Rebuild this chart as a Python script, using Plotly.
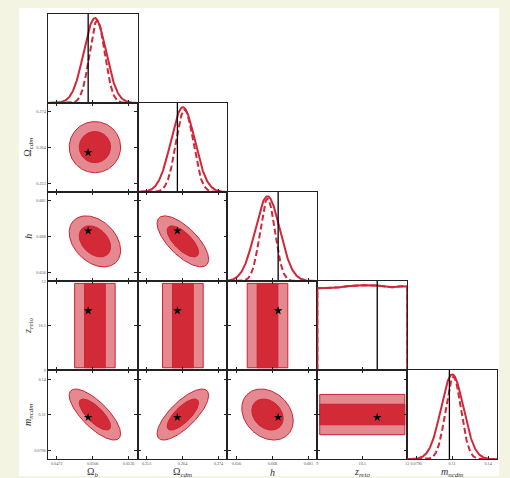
import numpy as np
import plotly.graph_objects as go

W, H = 510, 478

# ---------------- data ----------------
labels = ["Ω<sub><i>b</i></sub>", "Ω<sub><i>cdm</i></sub>", "<i>h</i>",
          "<i>z</i><sub><i>reio</i></sub>", "<i>m</i><sub><i>ncdm</i></sub>"]
ranges = [[0.0464, 0.0544], [0.250375, 0.276625], [0.652875, 0.684125],
          [9.0, 12.0], [0.07205, 0.14755]]
tick_vals = [[0.0472, 0.0504, 0.0536], [0.253, 0.2635, 0.274], [0.656, 0.6685, 0.681],
             [9.0, 10.5, 12.0], [0.0796, 0.1098, 0.14]]
tick_text = [["0.0472", "0.0506", "0.0536"], ["0.253", "0.264", "0.274"],
             ["0.656", "0.668", "0.681"], ["9", "10.5", "12"], ["0.0796", "0.11", "0.14"]]
truths = [0.0500, 0.2620, 0.6705, 11.0, 0.1075]

# gaussian parameters (None for the flat z_reio)
means = [0.0506, 0.2636, 0.6668, None, 0.1099]
sig2d = [0.00092, 0.00303, 0.0036, None, 0.0087]
mean1d_solid = [0.0506, 0.2636, 0.6668, None, 0.1099]
sig1d_solid = [0.00099, 0.0035, 0.0043, None, 0.0094]
mean1d_dash = [0.0508, 0.2641, 0.6668, None, 0.1108]
sig1d_dash = [0.00068, 0.0025, 0.0026, None, 0.0065]
peak_dash = 0.97
corr = {(1, 0): 0.0, (2, 0): -0.35, (2, 1): -0.7, (4, 0): -0.75, (4, 1): 0.75, (4, 2): -0.25}

# flat z_reio posterior
z_grid = [9.0, 9.0, 9.5, 9.75, 10.0, 10.5, 11.0, 11.5, 11.8, 12.0, 12.0]
z_post = [0.0, 0.965, 0.972, 0.976, 0.99, 1.0, 0.998, 0.976, 0.99, 0.985, 0.0]
z_band = [9.08, 11.92]

# ---------------- style ----------------
RED = "#d0283a"
INNER = "#d22a36"
OUTER = "#e58990"
EDGE = "#cc2233"
FRAME = "#222222"
SERIF = "Liberation Serif, DejaVu Serif, serif"

X0, Y0, DX, DY = 47.0, 11.0, 90.4, 90.0
N = 5

fig = go.Figure()
layout = {}


def ellipse(mx, my, sx, sy, rho, k2):
    t = np.linspace(0, 2 * np.pi, 200)
    a = np.sqrt(k2)
    u = a * np.cos(t)
    v = a * np.sin(t)
    x = mx + sx * u
    y = my + sy * (rho * u + np.sqrt(1 - rho ** 2) * v)
    return x, y


k = 0
for i in range(N):
    for j in range(i + 1):
        k += 1
        sfx = "" if k == 1 else str(k)
        xa, ya = "x" + sfx, "y" + sfx
        L = X0 + DX * j
        T = Y0 + DY * i
        diag = (i == j)
        xax = dict(domain=[L / W, (L + DX) / W], anchor=ya, range=ranges[j],
                   tickvals=tick_vals[j], ticktext=tick_text[j],
                   showticklabels=(i == N - 1), ticks="inside", ticklen=3,
                   tickcolor=FRAME, tickwidth=1, showline=True, linecolor=FRAME,
                   linewidth=1.3, mirror=True if diag else "ticks",
                   showgrid=False, zeroline=False,
                   tickfont=dict(family=SERIF, size=4.2, color="#555"))
        if diag:
            yax = dict(domain=[1 - (T + DY) / H, 1 - T / H], anchor=xa, range=[0, 1.05],
                       showticklabels=False, ticks="", showline=True, linecolor=FRAME,
                       linewidth=1.3, mirror=True, showgrid=False, zeroline=False)
        else:
            yax = dict(domain=[1 - (T + DY) / H, 1 - T / H], anchor=xa, range=ranges[i],
                       tickvals=tick_vals[i], ticktext=tick_text[i],
                       showticklabels=(j == 0), ticks="inside", ticklen=3,
                       tickcolor=FRAME, tickwidth=1, showline=True, linecolor=FRAME,
                       linewidth=1.3, mirror="ticks", showgrid=False, zeroline=False,
                       tickfont=dict(family=SERIF, size=4.2, color="#555"))
        layout["xaxis" + sfx] = xax
        layout["yaxis" + sfx] = yax

        if diag:
            if means[j] is None:
                fig.add_trace(go.Scatter(x=z_grid, y=z_post, mode="lines", xaxis=xa, yaxis=ya,
                                         line=dict(color=RED, width=2), showlegend=False,
                                         hoverinfo="skip"))
                fig.add_trace(go.Scatter(x=z_grid, y=z_post, mode="lines", xaxis=xa, yaxis=ya,
                                         line=dict(color=RED, width=2, dash="6px,3px"),
                                         showlegend=False, hoverinfo="skip"))
            else:
                xs = np.linspace(ranges[j][0], ranges[j][1], 300)
                ys = np.exp(-0.5 * ((xs - mean1d_solid[j]) / sig1d_solid[j]) ** 2)
                yd = peak_dash * np.exp(-0.5 * ((xs - mean1d_dash[j]) / sig1d_dash[j]) ** 2)
                fig.add_trace(go.Scatter(x=xs, y=ys, mode="lines", xaxis=xa, yaxis=ya,
                                         line=dict(color=RED, width=2), showlegend=False,
                                         hoverinfo="skip"))
                fig.add_trace(go.Scatter(x=xs, y=yd, mode="lines", xaxis=xa, yaxis=ya,
                                         line=dict(color=RED, width=2, dash="6px,3px"),
                                         showlegend=False, hoverinfo="skip"))
            fig.add_trace(go.Scatter(x=[truths[j], truths[j]], y=[0, 1.05], mode="lines",
                                     xaxis=xa, yaxis=ya, line=dict(color="black", width=1.3),
                                     showlegend=False, hoverinfo="skip"))
        else:
            polys = []
            if means[i] is None or means[j] is None:
                for kk, fill in [(1.96, OUTER), (1.0, INNER)]:
                    if means[i] is None:
                        a0 = means[j] - kk * sig2d[j]
                        a1 = means[j] + kk * sig2d[j]
                        px = [a0, a1, a1, a0, a0]
                        py = [z_band[0], z_band[0], z_band[1], z_band[1], z_band[0]]
                    else:
                        a0 = means[i] - kk * sig2d[i]
                        a1 = means[i] + kk * sig2d[i]
                        px = [z_band[0], z_band[1], z_band[1], z_band[0], z_band[0]]
                        py = [a0, a0, a1, a1, a0]
                    polys.append((px, py, fill))
            else:
                rho = corr[(i, j)]
                for k2, fill in [(6.18, OUTER), (2.30, INNER)]:
                    px, py = ellipse(means[j], means[i], sig2d[j], sig2d[i], rho, k2)
                    polys.append((px, py, fill))
            for px, py, fill in polys:
                fig.add_trace(go.Scatter(x=list(px), y=list(py), mode="lines", fill="toself",
                                         fillcolor=fill, xaxis=xa, yaxis=ya,
                                         line=dict(color=EDGE, width=1), showlegend=False,
                                         hoverinfo="skip"))
            fig.add_trace(go.Scatter(x=[truths[j]], y=[truths[i]], mode="markers",
                                     xaxis=xa, yaxis=ya,
                                     marker=dict(symbol="star", size=6.5, color="black",
                                                 line=dict(width=0)),
                                     showlegend=False, hoverinfo="skip"))

annotations = []
for j in range(N):
    cx = X0 + DX * (j + 0.5)
    annotations.append(dict(text=labels[j], x=cx / W, y=1 - 474 / H, xref="paper",
                            yref="paper", showarrow=False, xanchor="center", yanchor="middle",
                            font=dict(family=SERIF, size=10, color="#333")))
for i in range(1, N):
    cy = Y0 + DY * (i + 0.5)
    annotations.append(dict(text=labels[i], x=27.5 / W, y=1 - cy / H, xref="paper",
                            yref="paper", showarrow=False, textangle=-90,
                            xanchor="center", yanchor="middle",
                            font=dict(family=SERIF, size=10, color="#333")))

layout.update(dict(
    width=W, height=H, margin=dict(l=0, r=0, t=0, b=0),
    paper_bgcolor="#f4f4e2", plot_bgcolor="white", showlegend=False,
    annotations=annotations,
    shapes=[dict(type="rect", xref="paper", yref="paper", x0=18 / W, x1=501 / W,
                 y0=0, y1=1 - 5 / H, fillcolor="white", line=dict(width=0), layer="below")],
))
fig.update_layout(**layout)
fig.write_html("out.html")
